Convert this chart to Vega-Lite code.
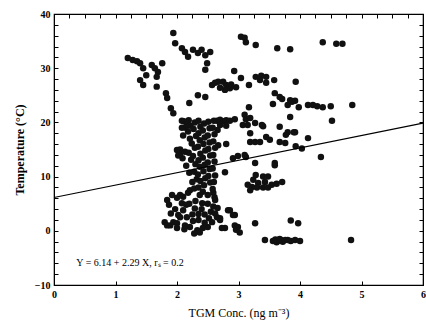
{
  "$schema": "https://vega.github.io/schema/vega-lite/v6.json",
  "width": 369,
  "height": 271,
  "autosize": "none",
  "padding": {"left": 54, "top": 14, "right": 3, "bottom": 45},
  "background": "white",
  "config": {
    "view": {"stroke": "black", "strokeWidth": 1.2},
    "font": "Liberation Serif",
    "axis": {"grid": false, "domainColor": "black", "tickColor": "black", "labelColor": "black", "titleColor": "black", "labelFont": "Liberation Serif", "titleFont": "Liberation Serif"}
  },
  "datasets": {
    "pts": [
      {"tgm":1.2,"temp":31.9},{"tgm":1.28,"temp":31.5},{"tgm":1.35,"temp":31.3},{"tgm":1.4,"temp":30.9},{"tgm":1.45,"temp":30},{"tgm":1.5,"temp":28.7},{"tgm":1.4,"temp":27.8},{"tgm":1.45,"temp":26.9},{"tgm":1.59,"temp":30.6},{"tgm":1.64,"temp":30},{"tgm":1.69,"temp":29.3},{"tgm":1.76,"temp":30.9},{"tgm":1.67,"temp":28.4},{"tgm":1.67,"temp":26.6},{"tgm":1.82,"temp":25.4},{"tgm":1.84,"temp":24.5},{"tgm":1.9,"temp":22.6},{"tgm":1.94,"temp":21.7},
      {"tgm":1.94,"temp":36.5},{"tgm":1.97,"temp":34.6},{"tgm":2.08,"temp":33.7},{"tgm":2.13,"temp":33},{"tgm":2.18,"temp":32.1},{"tgm":2.26,"temp":33.4},{"tgm":2.34,"temp":32.8},{"tgm":2.4,"temp":33.4},{"tgm":2.46,"temp":32.4},{"tgm":2.54,"temp":33},{"tgm":2.49,"temp":30.9},{"tgm":2.46,"temp":29.7},{"tgm":2.57,"temp":26.9},{"tgm":2.2,"temp":23.6},{"tgm":2.34,"temp":25},{"tgm":2.46,"temp":24.7},
      {"tgm":3.04,"temp":35.8},{"tgm":3.1,"temp":35.6},{"tgm":3.12,"temp":34.8},{"tgm":3.28,"temp":34.3},{"tgm":3.63,"temp":33.7},{"tgm":3.84,"temp":33.5},{"tgm":4.37,"temp":34.8},{"tgm":4.59,"temp":34.5},{"tgm":4.69,"temp":34.5},
      {"tgm":2.62,"temp":27.3},{"tgm":2.67,"temp":27.5},{"tgm":2.75,"temp":27.5},{"tgm":2.8,"temp":26.9},{"tgm":2.86,"temp":26.3},{"tgm":2.78,"temp":26},{"tgm":2.96,"temp":26.5},{"tgm":3.04,"temp":28.2},{"tgm":3.17,"temp":26.9},{"tgm":3.28,"temp":28.4},{"tgm":3.37,"temp":28.6},{"tgm":3.45,"temp":28.4},{"tgm":3.35,"temp":27.8},{"tgm":3.45,"temp":27.3},{"tgm":3.58,"temp":27.8},{"tgm":3.93,"temp":27.5},{"tgm":2.93,"temp":29.5},{"tgm":2.7,"temp":26.4},{"tgm":2.88,"temp":27.0},
      {"tgm":3.59,"temp":25.4},{"tgm":3.67,"temp":24.7},{"tgm":3.71,"temp":24.3},{"tgm":3.56,"temp":23.4},{"tgm":3.84,"temp":24.1},{"tgm":3.92,"temp":24},{"tgm":3.8,"temp":23.2},{"tgm":3.98,"temp":22.8},{"tgm":4.13,"temp":23.2},{"tgm":4.21,"temp":23.2},{"tgm":4.28,"temp":23},{"tgm":4.37,"temp":22.8},{"tgm":4.5,"temp":23},{"tgm":4.85,"temp":23.2},{"tgm":3.17,"temp":22.8},{"tgm":3.87,"temp":23.8},
      {"tgm":3.84,"temp":21},{"tgm":4.52,"temp":20.3},{"tgm":2.94,"temp":20.6},{"tgm":3.1,"temp":21.4},{"tgm":3.12,"temp":20.6},{"tgm":3.19,"temp":20.8},{"tgm":3.27,"temp":19.9},{"tgm":3.4,"temp":19.3},{"tgm":3.15,"temp":19.5},{"tgm":3.19,"temp":18},{"tgm":3.67,"temp":19.2},{"tgm":3.8,"temp":18.2},{"tgm":3.92,"temp":18.2},{"tgm":3.19,"temp":16.4},{"tgm":3.27,"temp":16.4},{"tgm":3.35,"temp":16.4},{"tgm":3.45,"temp":17.3},{"tgm":3.67,"temp":16.4},{"tgm":3.76,"temp":16.2},{"tgm":3.77,"temp":17.7},{"tgm":4.13,"temp":17.1},{"tgm":3.93,"temp":15.6},{"tgm":4.03,"temp":15.2},{"tgm":2.8,"temp":16},{"tgm":2.67,"temp":15.8},{"tgm":4.34,"temp":13.6},{"tgm":2.91,"temp":13.4},{"tgm":2.99,"temp":13.8},{"tgm":3.12,"temp":13.6},{"tgm":3.27,"temp":12.5},{"tgm":3.59,"temp":12.5},{"tgm":3.07,"temp":19.5},{"tgm":3.38,"temp":19.5},{"tgm":3.51,"temp":16.8},{"tgm":3.1,"temp":14},{"tgm":3.59,"temp":12.1},{"tgm":3.9,"temp":18.2},
      {"tgm":2.78,"temp":10.8},{"tgm":3.24,"temp":9.4},{"tgm":3.32,"temp":8.8},{"tgm":3.43,"temp":9},{"tgm":3.54,"temp":8.5},{"tgm":3.22,"temp":8.1},{"tgm":3.3,"temp":8.0},{"tgm":3.4,"temp":8.0},{"tgm":3.48,"temp":8.0},{"tgm":3.71,"temp":9},{"tgm":3.19,"temp":7.5},{"tgm":3.28,"temp":10.3},{"tgm":3.4,"temp":10.0},{"tgm":3.48,"temp":10.0},{"tgm":3.15,"temp":8.5},{"tgm":3.62,"temp":8.7},
      {"tgm":2.83,"temp":3.8},{"tgm":2.94,"temp":2.9},{"tgm":2.7,"temp":2.3},{"tgm":2.78,"temp":0.5},{"tgm":2.94,"temp":1},{"tgm":2.99,"temp":0.7},{"tgm":3.02,"temp":-0.3},{"tgm":2.96,"temp":0.2},{"tgm":3.27,"temp":1.4},{"tgm":3.85,"temp":1.9},{"tgm":3.97,"temp":1.4},{"tgm":3.43,"temp":-1.7},{"tgm":3.56,"temp":-1.9},{"tgm":3.6,"temp":-1.6},{"tgm":3.64,"temp":-1.9},{"tgm":3.69,"temp":-1.7},{"tgm":3.72,"temp":-2.0},{"tgm":3.76,"temp":-1.7},{"tgm":3.8,"temp":-1.7},{"tgm":3.85,"temp":-1.9},{"tgm":3.92,"temp":-1.7},{"tgm":4.0,"temp":-1.9},{"tgm":3.62,"temp":-2.1},{"tgm":3.67,"temp":-1.5},{"tgm":4.83,"temp":-1.7},
      {"tgm":1.84,"temp":5.7},{"tgm":1.87,"temp":4.8},{"tgm":2.0,"temp":6.1},{"tgm":2.1,"temp":6.3},{"tgm":2.18,"temp":7},{"tgm":2.21,"temp":7.5},{"tgm":2.37,"temp":6.6},{"tgm":2.41,"temp":5.1},{"tgm":2.5,"temp":6.6},{"tgm":2.59,"temp":7},{"tgm":2.62,"temp":5.7},{"tgm":2.59,"temp":4.5},{"tgm":1.8,"temp":1.6},{"tgm":1.89,"temp":1},{"tgm":2.0,"temp":1.4},{"tgm":2.05,"temp":2.5},{"tgm":2.1,"temp":3.8},{"tgm":2.16,"temp":2.5},{"tgm":2.21,"temp":0.7},{"tgm":2.33,"temp":0.1},{"tgm":2.37,"temp":-0.3},{"tgm":2.42,"temp":0.5},{"tgm":2.5,"temp":0.7},{"tgm":2.57,"temp":1.6},{"tgm":2.65,"temp":2.5},{"tgm":2.7,"temp":2},{"tgm":2.73,"temp":0.5},{"tgm":2.86,"temp":3.8},{"tgm":2.91,"temp":2.9},{"tgm":2.29,"temp":4.1},{"tgm":2.26,"temp":1.8},{"tgm":1.92,"temp":6.6},{"tgm":2.05,"temp":6.6},{"tgm":2.08,"temp":5.1},{"tgm":2.02,"temp":2.9},{"tgm":1.94,"temp":1.6},{"tgm":1.84,"temp":1},{"tgm":2.13,"temp":1.0},{"tgm":2.25,"temp":3.0},{"tgm":2.35,"temp":2.0},{"tgm":2.45,"temp":3.0},{"tgm":2.3,"temp":5.5},{"tgm":2.2,"temp":5.0},{"tgm":2.45,"temp":1.5},{"tgm":2.55,"temp":3.5},{"tgm":2.4,"temp":4.0},{"tgm":2.15,"temp":4.8},{"tgm":1.97,"temp":4.0},{"tgm":2.28,"temp":7.8},{"tgm":2.5,"temp":5.0},{"tgm":2.62,"temp":3.2},{"tgm":2.0,"temp":0.5},{"tgm":2.12,"temp":0.3},{"tgm":2.28,"temp":-0.5},{"tgm":1.9,"temp":3.2},{"tgm":2.35,"temp":3.1},{"tgm":2.52,"temp":2.3},{"tgm":2.66,"temp":4.2},
      {"tgm":2.11,"temp":20.2},{"tgm":2.14,"temp":19.0},{"tgm":2.1,"temp":17.6},{"tgm":2.13,"temp":14.6},{"tgm":2.09,"temp":13.4},{"tgm":2.15,"temp":12.0},
      {"tgm":2.19,"temp":20.4},{"tgm":2.22,"temp":19.4},{"tgm":2.18,"temp":18.3},{"tgm":2.21,"temp":17.0},{"tgm":2.24,"temp":16.1},{"tgm":2.19,"temp":14.4},{"tgm":2.23,"temp":13.1},{"tgm":2.2,"temp":10.7},{"tgm":2.25,"temp":9.0},
      {"tgm":2.29,"temp":20.0},{"tgm":2.27,"temp":18.8},{"tgm":2.31,"temp":17.5},{"tgm":2.29,"temp":15.3},{"tgm":2.26,"temp":13.8},{"tgm":2.3,"temp":12.3},{"tgm":2.28,"temp":10.9},{"tgm":2.32,"temp":9.5},
      {"tgm":2.35,"temp":20.3},{"tgm":2.38,"temp":19.2},{"tgm":2.35,"temp":18.0},{"tgm":2.37,"temp":16.7},{"tgm":2.34,"temp":15.5},{"tgm":2.38,"temp":14.2},{"tgm":2.35,"temp":13.0},{"tgm":2.37,"temp":11.8},{"tgm":2.34,"temp":10.4},{"tgm":2.38,"temp":9.2},{"tgm":2.35,"temp":8.0},
      {"tgm":2.44,"temp":19.8},{"tgm":2.42,"temp":18.5},{"tgm":2.45,"temp":17.2},{"tgm":2.43,"temp":16.0},{"tgm":2.46,"temp":14.8},{"tgm":2.42,"temp":13.5},{"tgm":2.45,"temp":12.2},{"tgm":2.43,"temp":11.0},{"tgm":2.46,"temp":9.7},{"tgm":2.44,"temp":8.4},{"tgm":2.42,"temp":7.2},
      {"tgm":2.51,"temp":20.1},{"tgm":2.53,"temp":18.9},{"tgm":2.5,"temp":17.6},{"tgm":2.53,"temp":16.3},{"tgm":2.51,"temp":15.1},{"tgm":2.54,"temp":13.9},{"tgm":2.5,"temp":12.6},{"tgm":2.53,"temp":11.4},{"tgm":2.51,"temp":10.1},{"tgm":2.54,"temp":8.9},
      {"tgm":2.6,"temp":20.3},{"tgm":2.58,"temp":19.0},{"tgm":2.61,"temp":17.8},{"tgm":2.59,"temp":16.5},{"tgm":2.62,"temp":15.3},{"tgm":2.59,"temp":14.0},{"tgm":2.61,"temp":12.8},{"tgm":2.58,"temp":11.5},{"tgm":2.62,"temp":10.2},{"tgm":2.6,"temp":9.0},{"tgm":2.58,"temp":7.7},{"tgm":2.61,"temp":6.2},
      {"tgm":2.05,"temp":15.0},{"tgm":2.05,"temp":14.2},{"tgm":2.0,"temp":14.9},{"tgm":2.08,"temp":20.3},{"tgm":2.08,"temp":19.0},{"tgm":2.16,"temp":19.6},{"tgm":2.02,"temp":13.9},
      {"tgm":2.65,"temp":20.3},{"tgm":2.7,"temp":20.5},{"tgm":2.75,"temp":20.2},{"tgm":2.8,"temp":20.4},{"tgm":2.86,"temp":20.3},{"tgm":2.7,"temp":19.5},{"tgm":2.8,"temp":19.4},{"tgm":2.66,"temp":18.6}
    ],
    "fit": [{"tgm": 0, "temp": 6.14}, {"tgm": 6, "temp": 19.88}],
    "note": [{"tgm": 1.236, "temp": -5.9, "label": "Y = 6.14 + 2.29 X, rₛ = 0.2"}]
  },
  "layer": [
    {
      "data": {"name": "pts"},
      "mark": {"type": "circle", "size": 42, "color": "#111111", "opacity": 1},
      "encoding": {
        "x": {"field": "tgm", "type": "quantitative", "scale": {"domain": [0, 6], "nice": false, "zero": false},
          "axis": {"orient": "bottom", "title": "TGM Conc. (ng m⁻³)", "titleFontSize": 12, "titleFontWeight": "normal", "titlePadding": 8, "format": "d",
            "values": [0,0.25,0.5,0.75,1,1.25,1.5,1.75,2,2.25,2.5,2.75,3,3.25,3.5,3.75,4,4.25,4.5,4.75,5,5.25,5.5,5.75,6],
            "labelExpr": "datum.value % 1 == 0 ? datum.label : ''", "tickSize": -4, "labelPadding": 8, "labelFontSize": 10, "labelFontWeight": "bold", "labelFlush": false, "labelOverlap": false}},
        "y": {"field": "temp", "type": "quantitative", "scale": {"domain": [-10, 40], "nice": false, "zero": false},
          "axis": {"orient": "left", "title": "Temperature (°C)", "titleFontSize": 12, "titleFontWeight": "bold", "titlePadding": 8, "format": "d",
            "values": [-10,-8,-6,-4,-2,0,2,4,6,8,10,12,14,16,18,20,22,24,26,28,30,32,34,36,38,40],
            "labelExpr": "datum.value % 10 == 0 ? datum.label : ''", "tickSize": -4, "labelPadding": 8, "labelFontSize": 10, "labelFontWeight": "bold", "labelFlush": false, "labelOverlap": false}}
      }
    },
    {
      "data": {"name": "fit"},
      "mark": {"type": "line", "color": "black", "strokeWidth": 1.2},
      "encoding": {
        "x": {"field": "tgm", "type": "quantitative",
          "axis": {"orient": "top", "title": null, "labels": false, "tickSize": -4,
            "values": [0,0.25,0.5,0.75,1,1.25,1.5,1.75,2,2.25,2.5,2.75,3,3.25,3.5,3.75,4,4.25,4.5,4.75,5,5.25,5.5,5.75,6]}},
        "y": {"field": "temp", "type": "quantitative",
          "axis": {"orient": "right", "title": null, "labels": false, "tickSize": -4,
            "values": [-10,-8,-6,-4,-2,0,2,4,6,8,10,12,14,16,18,20,22,24,26,28,30,32,34,36,38,40]}}
      }
    },
    {
      "data": {"name": "note"},
      "mark": {"type": "text", "font": "Liberation Serif", "fontSize": 10, "align": "center", "baseline": "middle", "color": "black"},
      "encoding": {
        "x": {"field": "tgm", "type": "quantitative", "axis": null},
        "y": {"field": "temp", "type": "quantitative", "axis": null},
        "text": {"field": "label"}
      }
    }
  ]
}
